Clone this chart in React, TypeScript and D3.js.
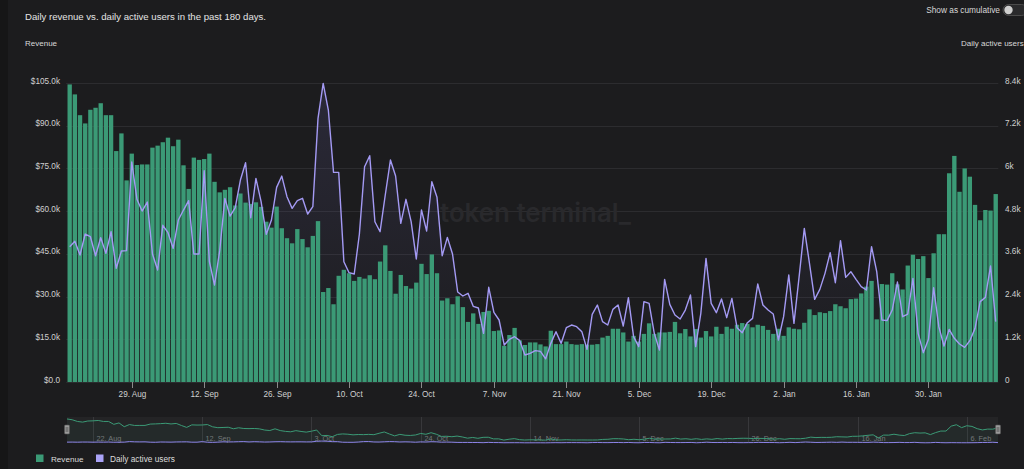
import React from "react";
import * as d3 from "d3";

// ---------- DATA ----------
const startDate = "2021-08-17";
const revenueK: number[] = [
  104.5, 101.0, 93.7, 90.8, 95.6, 96.3, 97.9, 93.7, 93.7, 81.1,
  87.3, 70.8, 80.2, 76.2, 76.4, 76.4, 82.3, 83.0, 84.2, 85.8,
  82.8, 85.1, 76.1, 67.8, 78.8, 78.0, 78.3, 80.2, 70.3, 66.6,
  67.5, 68.4, 62.0, 66.2, 63.0, 62.5, 63.1, 61.5, 56.3, 54.2,
  61.6, 54.0, 50.5, 48.7, 53.7, 50.2, 47.3, 51.3, 56.5, 31.6,
  33.0, 27.3, 37.3, 39.4, 38.2, 35.5, 36.9, 36.3, 37.5, 36.1,
  42.3, 48.0, 39.0, 31.0, 37.6, 33.7, 32.8, 34.9, 41.5, 37.9,
  44.8, 38.2, 28.6, 29.4, 27.3, 30.1, 26.3, 21.1, 24.1, 20.4,
  24.6, 25.0, 17.9, 18.1, 12.7, 16.5, 19.0, 14.6, 13.0, 13.9,
  13.9, 13.2, 12.5, 18.0, 13.3, 13.3, 14.2, 13.3, 13.1, 13.3,
  13.1, 13.1, 13.3, 15.6, 16.2, 18.7, 18.7, 17.4, 14.2, 16.2,
  14.2, 16.9, 20.6, 16.9, 17.4, 17.4, 17.6, 21.1, 17.1, 18.6,
  16.0, 18.6, 15.6, 17.9, 16.0, 19.4, 16.9, 19.4, 18.7, 20.1,
  20.7, 20.4, 19.2, 20.1, 19.7, 18.3, 16.9, 18.7, 16.2, 19.2,
  18.7, 18.5, 20.8, 25.5, 23.5, 24.5, 24.2, 24.9, 27.3, 26.6,
  25.9, 29.1, 29.3, 31.1, 33.5, 35.5, 22.0, 34.4, 34.2, 38.2,
  34.3, 32.5, 40.9, 44.7, 43.2, 44.2, 36.5, 45.2, 51.9, 51.9,
  73.3, 79.4, 66.8, 75.0, 72.1, 62.2, 56.8, 60.4, 60.2, 66.0,
];
const dau: number[] = [
  3800, 3952, 3567, 4157, 4082, 3548, 4054, 3614, 4222, 3194,
  3680, 3690, 6180, 5132, 4803, 5056, 3596, 3146, 4402, 4194,
  3755, 4551, 4831, 5093, 3596, 3596, 5936, 3380, 2725, 3690,
  5160, 4663, 4897, 5674, 6161, 4616, 5721, 5065, 4148, 4551,
  5468, 5786, 5206, 4878, 5093, 5160, 4719, 4925, 7407, 8390,
  7640, 5890, 5890, 3380, 3071, 3034, 4157, 6048, 6357, 4503,
  4222, 5253, 6236, 5786, 4458, 5132, 4503, 3455, 4831, 4241,
  5627, 5188, 3548, 4064, 3596, 2528, 2416, 2491, 2126, 2079,
  1368, 2660, 1958, 1742, 1039, 1199, 1273, 1161, 758, 806,
  880, 860, 650, 1086, 1414, 1086, 1526, 1601, 1554, 1414,
  918, 1901, 2163, 1695, 1601, 2041, 2163, 1573, 2369, 1274,
  993, 2257, 2209, 1367, 899, 2884, 2182, 1882, 1770, 2022,
  2444, 993, 1929, 3474, 2209, 1948, 2331, 1807, 2350, 1526,
  1386, 1667, 1788, 2753, 2163, 2022, 1910, 1180, 1835, 3006,
  1648, 2959, 4317, 3334, 2322, 2603, 3052, 3633, 2790, 3970,
  2940, 3100, 2884, 2678, 2584, 3802, 3100, 1742, 1723, 2022,
  2809, 1835, 1910, 2912, 1367, 824, 1199, 2650, 1554, 1011,
  1479, 1227, 1067, 974, 1161, 1507, 2257, 2378, 3258, 1695,
];
const revenueTicks: number[] = [0, 15, 30, 45, 60, 75, 90, 105];
const revenueTickLabels: string[] = ["$0.0", "$15.0k", "$30.0k", "$45.0k", "$60.0k", "$75.0k", "$90.0k", "$105.0k"];
const dauTicks: number[] = [0, 1200, 2400, 3600, 4800, 6000, 7200, 8400];
const dauTickLabels: string[] = ["0", "1.2k", "2.4k", "3.6k", "4.8k", "6k", "7.2k", "8.4k"];
const xTickDates: string[] = [
  "2021-08-29", "2021-09-12", "2021-09-26", "2021-10-10", "2021-10-24", "2021-11-07",
  "2021-11-21", "2021-12-05", "2021-12-19", "2022-01-02", "2022-01-16", "2022-01-30",
];
const navTickDates: string[] = [
  "2021-08-22", "2021-09-12", "2021-10-03", "2021-10-24", "2021-11-14",
  "2021-12-05", "2021-12-26", "2022-01-16", "2022-02-06",
];

// ---------- STYLE ----------
const BG = "#1c1c1e";
const GREEN = "#3b9a76";
const PURPLE = "#a49af4";
const FONT = "'Liberation Sans', Arial, sans-serif";

const parse = d3.utcParse("%Y-%m-%d");
const fmt = d3.utcFormat("%-d. %b");
const t0 = parse(startDate) as Date;
const dates = revenueK.map((_, i) => d3.utcDay.offset(t0, i));
const idxOf = (s: string) => Math.round(((parse(s) as Date).getTime() - t0.getTime()) / 86400000);

export default function App() {
  const W = 1024, H = 469;
  const plotL = 67.1, plotR = 998.3, plotT = 83, plotB = 382;
  const xBand = d3.scaleBand<number>().domain(d3.range(revenueK.length)).range([plotL, plotR]).paddingInner(0.16).paddingOuter(0.08);
  const cx = (i: number) => (xBand(i) as number) + xBand.bandwidth() / 2;
  const yL = d3.scaleLinear().domain([0, 105]).range([plotB, plotT]);
  const yR = d3.scaleLinear().domain([0, 8400]).range([plotB, plotT]);

  const line = d3.line<number>().x((_, i) => cx(i)).y((d) => yR(d));
  const area = d3.area<number>().x((_, i) => cx(i)).y0(plotB).y1((d) => yR(d));

  // navigator
  const navT = 417, navB = 443;
  const xN = d3.scaleLinear().domain([0, revenueK.length - 1]).range([67, 998]);
  const yN = d3.scaleLinear().domain([0, 113]).range([navB, navT]);
  const navLine = d3.line<number>().x((_, i) => xN(i)).y((d) => yN(d));
  const navArea = d3.area<number>().x((_, i) => xN(i)).y0(navB).y1((d) => yN(d));
  const navDau = d3.line<number>().x((_, i) => xN(i)).y((d) => yN(d / 1000));

  const handle = (x: number) => (
    <g>
      <rect x={x - 2.5} y={425} width={5} height={9} rx={1} fill="#9a9a9a" stroke="#555" strokeWidth={0.6} />
      <line x1={x - 0.8} x2={x - 0.8} y1={427} y2={432} stroke="#444" strokeWidth={0.6} />
      <line x1={x + 0.8} x2={x + 0.8} y1={427} y2={432} stroke="#444" strokeWidth={0.6} />
    </g>
  );

  return (
    <svg width={W} height={H} style={{ position: "fixed", left: 0, top: 0, display: "block" }} fontFamily={FONT}>
      <defs>
        <linearGradient id="dauFill" x1="0" y1="0" x2="0" y2="1" gradientUnits="userSpaceOnUse" gradientTransform={`translate(0,${plotT}) scale(1,${plotB - plotT})`}>
          <stop offset="0" stopColor="#8c82e6" stopOpacity={0.13} />
          <stop offset="1" stopColor="#8c82e6" stopOpacity={0.0} />
        </linearGradient>
      </defs>
      <rect x={0} y={0} width={W} height={H} fill={BG} />
      <rect x={0} y={0} width={8} height={H} fill="#161617" />

      {/* header */}
      <text x={25} y={20} fontSize={9.6} fill="#e4e4e4">Daily revenue vs. daily active users in the past 180 days.</text>
      <text x={25} y={46} fontSize={8} fill="#d8d8d8">Revenue</text>
      <text x={961} y={46} fontSize={8} fill="#d8d8d8">Daily active users</text>
      <text x={1000} y={13} fontSize={8.3} fill="#d8d8d8" textAnchor="end">Show as cumulative</text>
      <rect x={1003} y={4.5} width={24} height={11} rx={5.5} fill="#2a2a2c" stroke="#555" strokeWidth={0.8} />
      <circle cx={1008.5} cy={10} r={4.2} fill="#cfcfcf" />

      {/* grid */}
      {revenueTicks.map((t) => (
        <line key={t} x1={plotL - 1} x2={plotR} y1={Math.round(yL(t)) + 0.5} y2={Math.round(yL(t)) + 0.5} stroke="#2c2c2f" strokeWidth={1} />
      ))}

      {/* watermark */}
      <text x={440} y={221.5} fontSize={26} fontWeight={600} fill="#29292c" fontFamily="Inter, sans-serif" textLength={191} lengthAdjust="spacingAndGlyphs">token terminal_</text>

      {/* area + bars + line */}
      <path d={area(dau) as string} fill="url(#dauFill)" />
      {revenueK.map((v, i) => (
        <rect key={i} x={xBand(i)} y={yL(v)} width={xBand.bandwidth()} height={plotB - yL(v)} fill={GREEN} />
      ))}
      <path d={line(dau) as string} fill="none" stroke={PURPLE} strokeWidth={1.4} strokeLinejoin="round" />

      {/* y axes labels */}
      {revenueTicks.map((t, k) => (
        <text key={t} x={60} y={yL(t) + 0.5} fontSize={8.2} fill="#d0d0d0" textAnchor="end">{revenueTickLabels[k]}</text>
      ))}
      {dauTicks.map((t, k) => (
        <text key={t} x={1005} y={yR(t) + 0.5} fontSize={8.2} fill="#d0d0d0">{dauTickLabels[k]}</text>
      ))}

      {/* x axis */}
      {xTickDates.map((s) => {
        const i = idxOf(s);
        const x = Math.round(cx(i)) + 0.5;
        return (
          <g key={s}>
            <line x1={x} x2={x} y1={plotB} y2={plotB + 6} stroke="#8a8a8a" strokeWidth={1} />
            <text x={x} y={396.5} fontSize={8.2} fill="#d0d0d0" textAnchor="middle">{fmt(dates[i])}</text>
          </g>
        );
      })}

      {/* navigator */}
      <rect x={67} y={navT} width={931} height={navB - navT} fill="#242426" />
      {navTickDates.map((s) => {
        const i = idxOf(s);
        const x = Math.round(xN(i)) + 0.5;
        return (
          <g key={s}>
            <line x1={x} x2={x} y1={navT} y2={navB} stroke="#38383b" strokeWidth={1} />
            <text x={x + 3} y={441} fontSize={7.3} fill="#77777a">{fmt(dates[i])}</text>
          </g>
        );
      })}
      <path d={navArea(revenueK) as string} fill={GREEN} fillOpacity={0.06} />
      <path d={navLine(revenueK) as string} fill="none" stroke={GREEN} strokeWidth={1} />
      <path d={navDau(dau) as string} fill="none" stroke="#8c82e6" strokeWidth={1} />
      {handle(67)}
      {handle(998)}

      {/* legend */}
      <rect x={36} y={454.5} width={7.5} height={7.5} fill={GREEN} />
      <text x={51} y={461.5} fontSize={8.1} fill="#dcdcdc">Revenue</text>
      <rect x={96} y={454.5} width={7.5} height={7.5} fill="#aaa3f7" />
      <text x={110} y={461.5} fontSize={8.3} fill="#dcdcdc">Daily active users</text>
    </svg>
  );
}
